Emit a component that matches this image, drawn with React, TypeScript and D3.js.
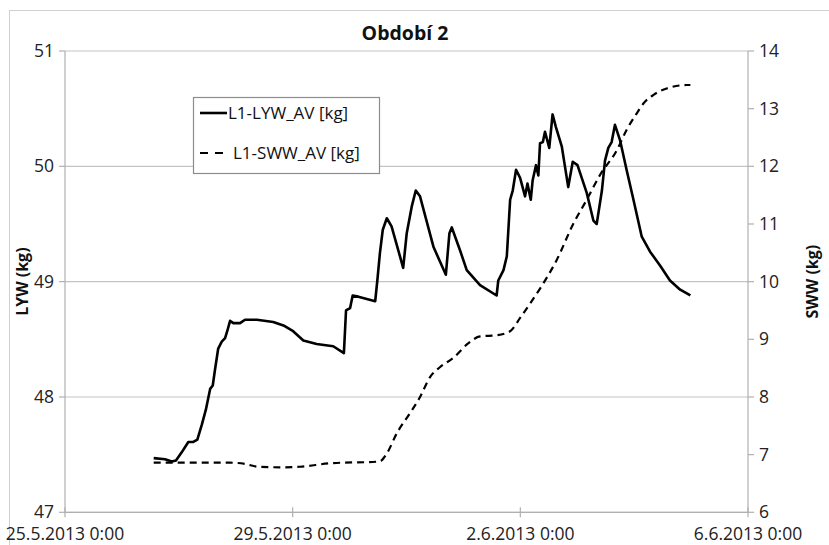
import React from "react";
import * as d3 from "d3";

// time axis origin: 25.5.2013 0:00 ; offsets in hours
const START = new Date(2013, 4, 25, 0, 0);

const lywHours = [37.4, 42.2, 45.0, 46.8, 49.2, 52.0, 54.1, 55.8, 57.7, 59.4, 61.2, 62.3, 63.2, 64.6, 66.1, 67.5, 68.4, 69.6, 71.0, 73.8, 75.9, 80.9, 87.8, 92.1, 96.2, 100.5, 106.1, 113.1, 117.6, 118.5, 120.2, 121.3, 123.7, 130.8, 131.7, 132.8, 134.0, 135.7, 137.7, 142.6, 144.1, 146.2, 147.9, 149.7, 155.4, 160.6, 162.1, 163.1, 166.6, 169.4, 175.0, 182.0, 182.7, 184.9, 186.3, 187.7, 188.8, 190.2, 191.9, 194.0, 195.0, 196.4, 197.2, 198.6, 199.6, 200.3, 201.5, 202.4, 204.2, 205.6, 207.0, 209.5, 212.2, 214.1, 216.1, 220.0, 222.8, 224.2, 226.4, 227.7, 229.1, 230.5, 231.9, 234.0, 236.8, 239.7, 243.2, 246.7, 250.9, 255.1, 259.4, 263.7];
const lywValues = [47.47, 47.46, 47.44, 47.45, 47.52, 47.61, 47.61, 47.63, 47.76, 47.89, 48.07, 48.1, 48.23, 48.42, 48.48, 48.51, 48.57, 48.66, 48.64, 48.64, 48.67, 48.67, 48.65, 48.62, 48.57, 48.49, 48.46, 48.44, 48.38, 48.75, 48.77, 48.88, 48.87, 48.83, 49.01, 49.25, 49.45, 49.55, 49.48, 49.12, 49.42, 49.65, 49.79, 49.74, 49.3, 49.06, 49.42, 49.47, 49.27, 49.1, 48.97, 48.88, 49.01, 49.1, 49.22, 49.71, 49.79, 49.97, 49.9, 49.74, 49.85, 49.71, 49.88, 50.01, 49.92, 50.2, 50.21, 50.3, 50.16, 50.45, 50.34, 50.17, 49.82, 50.04, 50.01, 49.77, 49.53, 49.5, 49.79, 50.05, 50.16, 50.21, 50.36, 50.23, 49.97, 49.71, 49.39, 49.26, 49.14, 49.01, 48.93, 48.88];

const swwHours = [37.4, 69.6, 75.9, 81.4, 90.7, 99.1, 111.8, 132.6, 135.7, 139.9, 145.5, 149.7, 154.0, 158.2, 163.8, 170.0, 175.0, 182.0, 187.7, 191.9, 196.1, 200.3, 207.4, 214.4, 220.0, 225.6, 232.7, 236.8, 241.1, 243.9, 248.2, 253.7, 262.2, 263.7];
const swwValues = [6.86, 6.86, 6.84, 6.79, 6.78, 6.79, 6.85, 6.88, 7.02, 7.37, 7.72, 8.0, 8.35, 8.52, 8.68, 8.93, 9.05, 9.07, 9.14, 9.37, 9.62, 9.88, 10.38, 11.01, 11.42, 11.85, 12.28, 12.63, 12.92, 13.09, 13.24, 13.35, 13.41, 13.41];

const xTickDates = [new Date(2013, 4, 25), new Date(2013, 4, 29), new Date(2013, 5, 2), new Date(2013, 5, 6)];
const xTickLabels = ["25.5.2013 0:00", "29.5.2013 0:00", "2.6.2013 0:00", "6.6.2013 0:00"];
const leftTicks = [47, 48, 49, 50, 51];
const rightTicks = [6, 7, 8, 9, 10, 11, 12, 13, 14];

const TITLE = "Období 2";
const LEFT_TITLE = "LYW (kg)";
const RIGHT_TITLE = "SWW (kg)";
const SERIES_NAMES = ["L1-LYW_AV [kg]", "L1-SWW_AV [kg]"];

const W = 829;
const H = 545;
const M = { left: 65, right: 748, top: 51, bottom: 512.3 };
const FONT = "'Open Sans', 'Noto Sans', sans-serif";
const GRID = "#c4c4c4";
const AXIS = "#b0b0b0";

const hourToDate = (h: number) => new Date(START.getTime() + h * 3600 * 1000);

export default function App() {
  const x = d3.scaleTime().domain([xTickDates[0], xTickDates[3]]).range([M.left, M.right]);
  const yL = d3.scaleLinear().domain([47, 51]).range([M.bottom, M.top]);
  const yR = d3.scaleLinear().domain([6, 14]).range([M.bottom, M.top]);

  const lyw = lywHours.map((h, i) => [hourToDate(h), lywValues[i]] as [Date, number]);
  const sww = swwHours.map((h, i) => [hourToDate(h), swwValues[i]] as [Date, number]);

  const lineL = d3.line<[Date, number]>().x((d) => x(d[0])).y((d) => yL(d[1])).curve(d3.curveLinear);
  const lineR = d3.line<[Date, number]>().x((d) => x(d[0])).y((d) => yR(d[1])).curve(d3.curveMonotoneX);

  const fs = 17.5;
  const lfs = 17;
  const legend = { x: 193.5, y: 97.5, w: 186, h: 76 };

  return (
    <svg width={W} height={H} style={{ position: "absolute", left: 0, top: 0, background: "#fff" }} fontFamily={FONT}>
      <rect x={0} y={0} width={W} height={H} fill="#fff" />
      <rect x={9.5} y={10.5} width={W + 20} height={H + 20} fill="none" stroke="#d0d0d0" strokeWidth={1} />
      {/* grid */}
      {leftTicks.map((t) => (
        <line key={"g" + t} x1={M.left} x2={M.right} y1={yL(t)} y2={yL(t)} stroke={GRID} strokeWidth={1.2} />
      ))}
      {/* axes */}
      <line x1={M.left} x2={M.left} y1={M.top} y2={M.bottom} stroke={AXIS} strokeWidth={1.2} />
      <line x1={M.right} x2={M.right} y1={M.top} y2={M.bottom} stroke={AXIS} strokeWidth={1.2} />
      <line x1={M.left} x2={M.right} y1={M.bottom} y2={M.bottom} stroke={AXIS} strokeWidth={1.2} />
      {leftTicks.map((t) => (
        <g key={"l" + t}>
          <line x1={M.left - 6} x2={M.left} y1={yL(t)} y2={yL(t)} stroke={AXIS} strokeWidth={1.2} />
          <text x={M.left - 11} y={yL(t)} dy="0.35em" textAnchor="end" fontSize={fs} fill="#222">{t}</text>
        </g>
      ))}
      {rightTicks.map((t) => (
        <g key={"r" + t}>
          <line x1={M.right} x2={M.right + 6} y1={yR(t)} y2={yR(t)} stroke={AXIS} strokeWidth={1.2} />
          <text x={M.right + 11} y={yR(t)} dy="0.35em" textAnchor="start" fontSize={fs} fill="#222">{t}</text>
        </g>
      ))}
      {xTickDates.map((d, i) => (
        <g key={"x" + i}>
          <line x1={x(d)} x2={x(d)} y1={M.bottom - 5} y2={M.bottom + 5} stroke={AXIS} strokeWidth={1.2} />
          <text x={x(d)} y={M.bottom + 28} textAnchor="middle" fontSize={fs} fill="#222">{xTickLabels[i]}</text>
        </g>
      ))}
      {/* titles */}
      <text x={405} y={40} textAnchor="middle" fontSize={19.5} fontWeight="bold" fill="#111">{TITLE}</text>
      <text transform={`translate(28,${(M.top + M.bottom) / 2}) rotate(-90)`} textAnchor="middle" fontSize={16} fontWeight="bold" fill="#111">{LEFT_TITLE}</text>
      <text transform={`translate(818,${(M.top + M.bottom) / 2}) rotate(-90)`} textAnchor="middle" fontSize={16} fontWeight="bold" fill="#111">{RIGHT_TITLE}</text>
      {/* series */}
      <path d={lineR(sww) || ""} fill="none" stroke="#000" strokeWidth={2.2} strokeDasharray="7,5" />
      <path d={lineL(lyw) || ""} fill="none" stroke="#000" strokeWidth={2.6} strokeLinejoin="round" />
      {/* legend */}
      <rect x={legend.x} y={legend.y} width={legend.w} height={legend.h} fill="#fff" stroke="#8c8c8c" strokeWidth={1.2} />
      <line x1={200} x2={227} y1={113} y2={113} stroke="#000" strokeWidth={2.6} />
      <text x={228} y={113} dy="0.35em" fontSize={lfs} fill="#111">{SERIES_NAMES[0]}</text>
      <line x1={200} x2={223} y1={153} y2={153} stroke="#000" strokeWidth={2.2} strokeDasharray="8,7" />
      <text x={233} y={153} dy="0.35em" fontSize={lfs} fill="#111">{SERIES_NAMES[1]}</text>
    </svg>
  );
}
